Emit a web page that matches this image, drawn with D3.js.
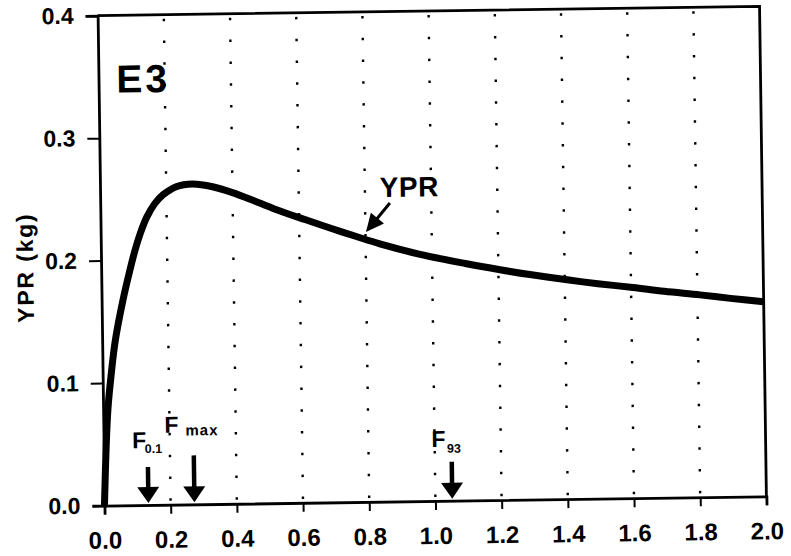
<!DOCTYPE html>
<html>
<head>
<meta charset="utf-8">
<script src="https://cdn.jsdelivr.net/npm/d3@7"></script>
<style>
  html, body { margin: 0; padding: 0; background: #fff; }
  svg { display: block; }
  text { font-family: "Liberation Sans", Arial, Helvetica, sans-serif; font-weight: bold; fill: #000; }
</style>
</head>
<body>
<svg id="chart" width="791" height="556"></svg>
<script>
// ---- data ----
const fishingMortality = [0, 0.008, 0.015, 0.025, 0.04, 0.065, 0.085, 0.103, 0.12, 0.14, 0.165, 0.19, 0.23, 0.28, 0.34, 0.4, 0.47, 0.543, 0.62, 0.693, 0.77, 0.843, 0.964, 1.1, 1.205, 1.3, 1.407, 1.5, 1.606, 1.7, 1.808, 1.9, 2.0];
const yprValues = [0, 0.05, 0.08, 0.105, 0.135, 0.168, 0.19, 0.208, 0.222, 0.235, 0.246, 0.253, 0.2595, 0.2615, 0.259, 0.254, 0.2465, 0.2385, 0.231, 0.224, 0.217, 0.2105, 0.2015, 0.1935, 0.188, 0.1835, 0.179, 0.1755, 0.172, 0.1685, 0.1652, 0.162, 0.1588];
const xTickValues = [0, 0.2, 0.4, 0.6, 0.8, 1.0, 1.2, 1.4, 1.6, 1.8, 2.0];
const yTickValues = [0, 0.1, 0.2, 0.3, 0.4];
const refNames = ["F", "F", "F"];
const refSubscripts = ["0.1", "max", "93"];
const refValues = [0.133, 0.272, 1.051];
const panelLabel = "E3";
const curveLabel = "YPR";
const yAxisTitle = "YPR (kg)";

// ---- layout ----
const svg = d3.select("#chart");
svg.append("rect").attr("width", 791).attr("height", 556).attr("fill", "#fff");
const g = svg.append("g").attr("transform", "rotate(-0.8, 432, 256)");

const x = d3.scaleLinear().domain([0, 2]).range([101, 763]);
const y = d3.scaleLinear().domain([0, 0.4]).range([501, 11]);

// dotted vertical grid
g.append("g").selectAll("line")
  .data(xTickValues.filter(v => v > 0 && v < 2))
  .join("line")
  .attr("x1", d => x(d)).attr("x2", d => x(d))
  .attr("y1", y(0.4) + 4).attr("y2", y(0))
  .attr("stroke", "#000").attr("stroke-width", 2.4)
  .attr("stroke-dasharray", "2.5,19.3");

// axes
const xAxis = d3.axisBottom(x).tickValues(xTickValues).tickFormat(d3.format(".1f"))
  .tickSize(9).tickPadding(17);
const gx = g.append("g").attr("transform", `translate(0,${y(0)})`).call(xAxis);
gx.select(".domain").attr("stroke-width", 2.8);
gx.selectAll(".tick line").attr("stroke-width", 2);
gx.selectAll(".tick text").style("font-size", "24px").attr("fill", "#000");

const yAxis = d3.axisLeft(y).tickValues(yTickValues).tickFormat(d3.format(".1f"))
  .tickSize(12).tickPadding(12);
const gy = g.append("g").attr("transform", `translate(${x(0)},0)`).call(yAxis);
gy.select(".domain").attr("stroke-width", 2.8);
gy.selectAll(".tick line").attr("stroke-width", 2);
gy.selectAll(".tick text").style("font-size", "23px").attr("fill", "#000");

// top and right frame
g.append("path")
  .attr("d", `M${x(0)},${y(0.4)}H${x(2)}V${y(0)}`)
  .attr("fill", "none").attr("stroke", "#000").attr("stroke-width", 2.8);

// YPR curve
const line = d3.line().x((d, i) => x(fishingMortality[i])).y(d => y(d)).curve(d3.curveCatmullRom.alpha(0.5));
g.append("path").datum(yprValues)
  .attr("d", line)
  .attr("fill", "none").attr("stroke", "#000").attr("stroke-width", 7)
  .attr("stroke-linejoin", "round").attr("stroke-linecap", "butt");

// arrow helper
function arrow(parent, x1, y1, x2, y2, headLen, headW, shaftW) {
  const dx = x2 - x1, dy = y2 - y1, len = Math.hypot(dx, dy);
  const ux = dx / len, uy = dy / len, px = -uy, py = ux;
  const bx = x2 - ux * headLen, by = y2 - uy * headLen;
  parent.append("line").attr("x1", x1).attr("y1", y1).attr("x2", bx + ux * 2).attr("y2", by + uy * 2)
    .attr("stroke", "#000").attr("stroke-width", shaftW);
  parent.append("path")
    .attr("d", `M${x2},${y2}L${bx + px * headW / 2},${by + py * headW / 2}L${bx - px * headW / 2},${by - py * headW / 2}Z`)
    .attr("fill", "#000");
}

// reference-point arrows and labels
const arrowLens = [36, 47, 37];
const fOffsets = [-15.5, -29, -20];
const fBaselines = [57, 72, 54];
const subDx = [12.5, 21, 15.5];
const subDy = [5, 3, 6];
const subSizes = [12.5, 15, 12.5];
refValues.forEach((v, i) => {
  const ax = x(v), ay = y(0) - 2;
  arrow(g, ax, ay - arrowLens[i], ax, ay, 16, 22, 4.5);
  const fx = ax + fOffsets[i], fy = y(0) - fBaselines[i];
  g.append("text").attr("x", fx).attr("y", fy).style("font-size", "23px").text(refNames[i]);
  g.append("text").attr("x", fx + subDx[i]).attr("y", fy + subDy[i])
    .style("font-size", subSizes[i] + "px").style("letter-spacing", i === 1 ? "1px" : "0px")
    .text(refSubscripts[i]);
});

// curve label with arrow
g.append("text").attr("x", x(0.845)).attr("y", y(0.2487))
  .style("font-size", "28px").style("letter-spacing", "0.5px").text(curveLabel);
arrow(g, x(0.875), y(0.2437), x(0.8015), y(0.2203), 18, 17, 3);

// panel label
g.append("text").attr("x", x(0.054)).attr("y", y(0.337))
  .style("font-size", "39px").style("letter-spacing", "3px").text(panelLabel);

// y-axis title
g.append("text")
  .attr("transform", "translate(25,262) rotate(-90)")
  .attr("text-anchor", "middle").attr("dy", "0.35em")
  .style("font-size", "23px").style("letter-spacing", "1.8px")
  .text(yAxisTitle);
</script>
</body>
</html>
